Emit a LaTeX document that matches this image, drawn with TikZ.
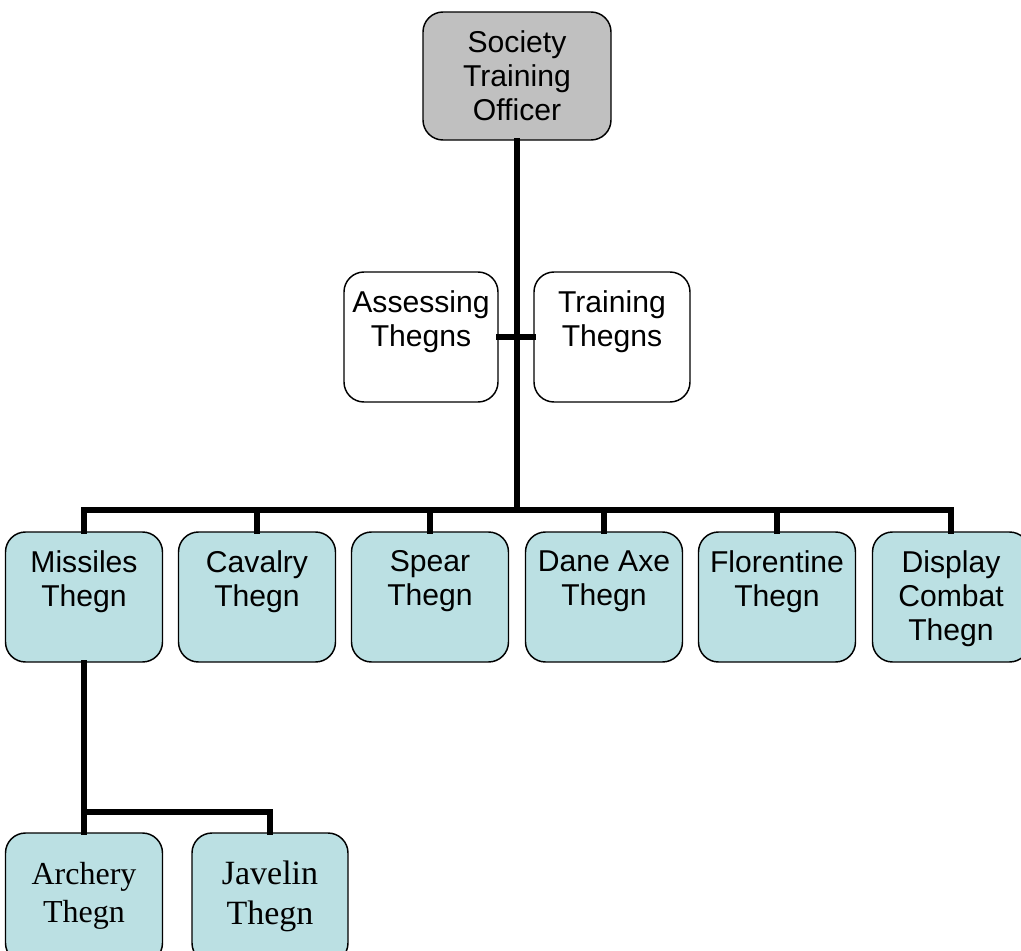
\documentclass[tikz,border=0pt]{standalone}
\usepackage{fontspec}
\newfontfamily\arialf{Liberation Sans}
\newfontfamily\timesf{Liberation Serif}
\begin{document}
\begin{tikzpicture}[x=0.75pt,y=-0.75pt,
  box/.style={draw=black,line width=1.1pt,rounded corners=15pt,inner sep=0pt,
    minimum width=117.75pt,minimum height=97.5pt,fill=boxblue},
  txt/.style={anchor=north,inner sep=0pt,align=center,
    font=\arialf\fontsize{22.6pt}{25.5pt}\selectfont},
  stxt/.style={anchor=north,inner sep=0pt,align=center,
    font=\timesf\fontsize{24pt}{28.5pt}\selectfont},
  conn/.style={line width=4.2pt,line join=miter,line cap=rect}]
\definecolor{boxblue}{HTML}{BBE0E3}
\definecolor{boxgray}{HTML}{C0C0C0}
\useasboundingbox (0,0) rectangle (1021,950);
% boxes
\node[box,fill=boxgray,minimum width=141pt,minimum height=96pt] (top) at (517,76) {};
\node[box,fill=white,minimum width=115.5pt] (ass) at (421,337) {};
\node[box,fill=white,minimum width=117pt] (tra) at (612,337) {};
\node[box] (mis) at (84,597) {};
\node[box] (cav) at (257,597) {};
\node[box] (spe) at (430,597) {};
\node[box] (dan) at (604,597) {};
\node[box] (flo) at (777,597) {};
\node[box] (dis) at (951,597) {};
\node[box] (arc) at (84,898) {};
\node[box,minimum width=117pt] (jav) at (270,898) {};
\coordinate (bus) at (517,510);
\coordinate (sub) at (84,812);
% connectors
\draw[conn] (top.south) -- (bus);
\draw[conn] (ass.east) -- (tra.west);
\draw[conn] (mis.north) |- (bus) -| (dis.north);
\foreach \n in {cav,spe,dan,flo} \draw[conn] (\n.north) -- (\n.north |- bus);
\draw[conn] (mis.south) -- (arc.north);
\draw[conn] (sub) -| (jav.north);
% texts
\node[txt] (topt) at ([yshift=-14.5]top.north) {Society\\Training\\Officer};
\node[txt] (asst) at ([yshift=-14.5]ass.north) {Assessing\\Thegns};
\node[txt] (trat) at ([yshift=-14.5]tra.north) {Training\\Thegns};
\node[txt] (mist) at ([yshift=-14.5]mis.north) {Missiles\\Thegn};
\node[txt] (cavt) at ([yshift=-14.5]cav.north) {Cavalry\\Thegn};
\node[txt] (spet) at ([yshift=-14.5]spe.north) {Spear\\Thegn};
\node[txt] (dant) at ([yshift=-14.5]dan.north) {Dane Axe\\Thegn};
\node[txt] (flot) at ([yshift=-14.5]flo.north) {Florentine\\Thegn};
\node[txt] (dist) at ([yshift=-14.5]dis.north) {Display\\Combat\\Thegn};
\node[stxt] (arct) at ([yshift=-22]arc.north) {Archery\\Thegn};
\node[stxt,font=\timesf\fontsize{25.5pt}{30pt}\selectfont] (javt) at ([yshift=-21]jav.north) {Javelin\\Thegn};
\end{tikzpicture}
\end{document}
